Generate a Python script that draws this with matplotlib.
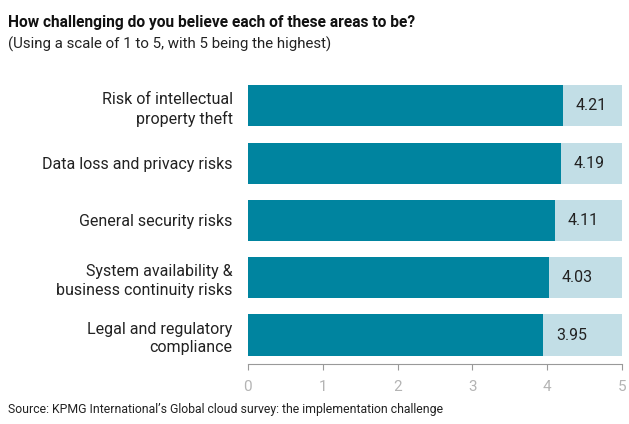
import matplotlib.pyplot as plt

categories = ["Risk of intellectual\nproperty theft",
              "Data loss and privacy risks",
              "General security risks",
              "System availability &\nbusiness continuity risks",
              "Legal and regulatory\ncompliance"]
scores = [4.21, 4.19, 4.11, 4.03, 3.95]
scale_max = 5
ticks = [0, 1, 2, 3, 4, 5]

dark = "#00849f"
light = "#c2dee6"

plt.rcParams["font.family"] = ["Roboto", "DejaVu Sans"]

fig = plt.figure(figsize=(6.29, 4.24), dpi=100)
ax = fig.add_axes([0.394, 0.142, 0.595, 0.676])

ypos = list(range(len(categories)))[::-1]
ax.barh(ypos, [scale_max] * len(scores), height=0.72, color=light, zorder=1)
ax.barh(ypos, scores, height=0.72, color=dark, zorder=2)

for y, v in zip(ypos, scores):
    ax.annotate(f"{v:.2f}", (v, y), xytext=(9, 0), textcoords="offset points",
                va="center", ha="left", fontsize=11.5, color="#222222")

ax.set_xlim(0, scale_max)
ax.set_ylim(-0.5, len(categories) - 0.5)
ax.set_yticks(ypos)
ax.set_yticklabels(categories, fontsize=11.5, color="#222222", linespacing=1.3)
ax.set_xticks(ticks)
ax.set_xticklabels([str(t) for t in ticks], fontsize=11, color="#b4b4b4")
ax.tick_params(axis="y", length=0, pad=11)
ax.tick_params(axis="x", length=4, color="#999999", pad=8)
for s in ["top", "right", "left"]:
    ax.spines[s].set_visible(False)
ax.spines["bottom"].set_color("#999999")

fig.text(0.013, 0.937, "How challenging do you believe each of these areas to be?",
         fontsize=11.2, fontweight="bold", color="#111111")
fig.text(0.013, 0.885, "(Using a scale of 1 to 5, with 5 being the highest)",
         fontsize=10.8, color="#222222")
fig.text(0.013, 0.025, "Source: KPMG International\u2019s Global cloud survey: the implementation challenge",
         fontsize=8.8, color="#222222")

fig.savefig("out.png", dpi=100)
